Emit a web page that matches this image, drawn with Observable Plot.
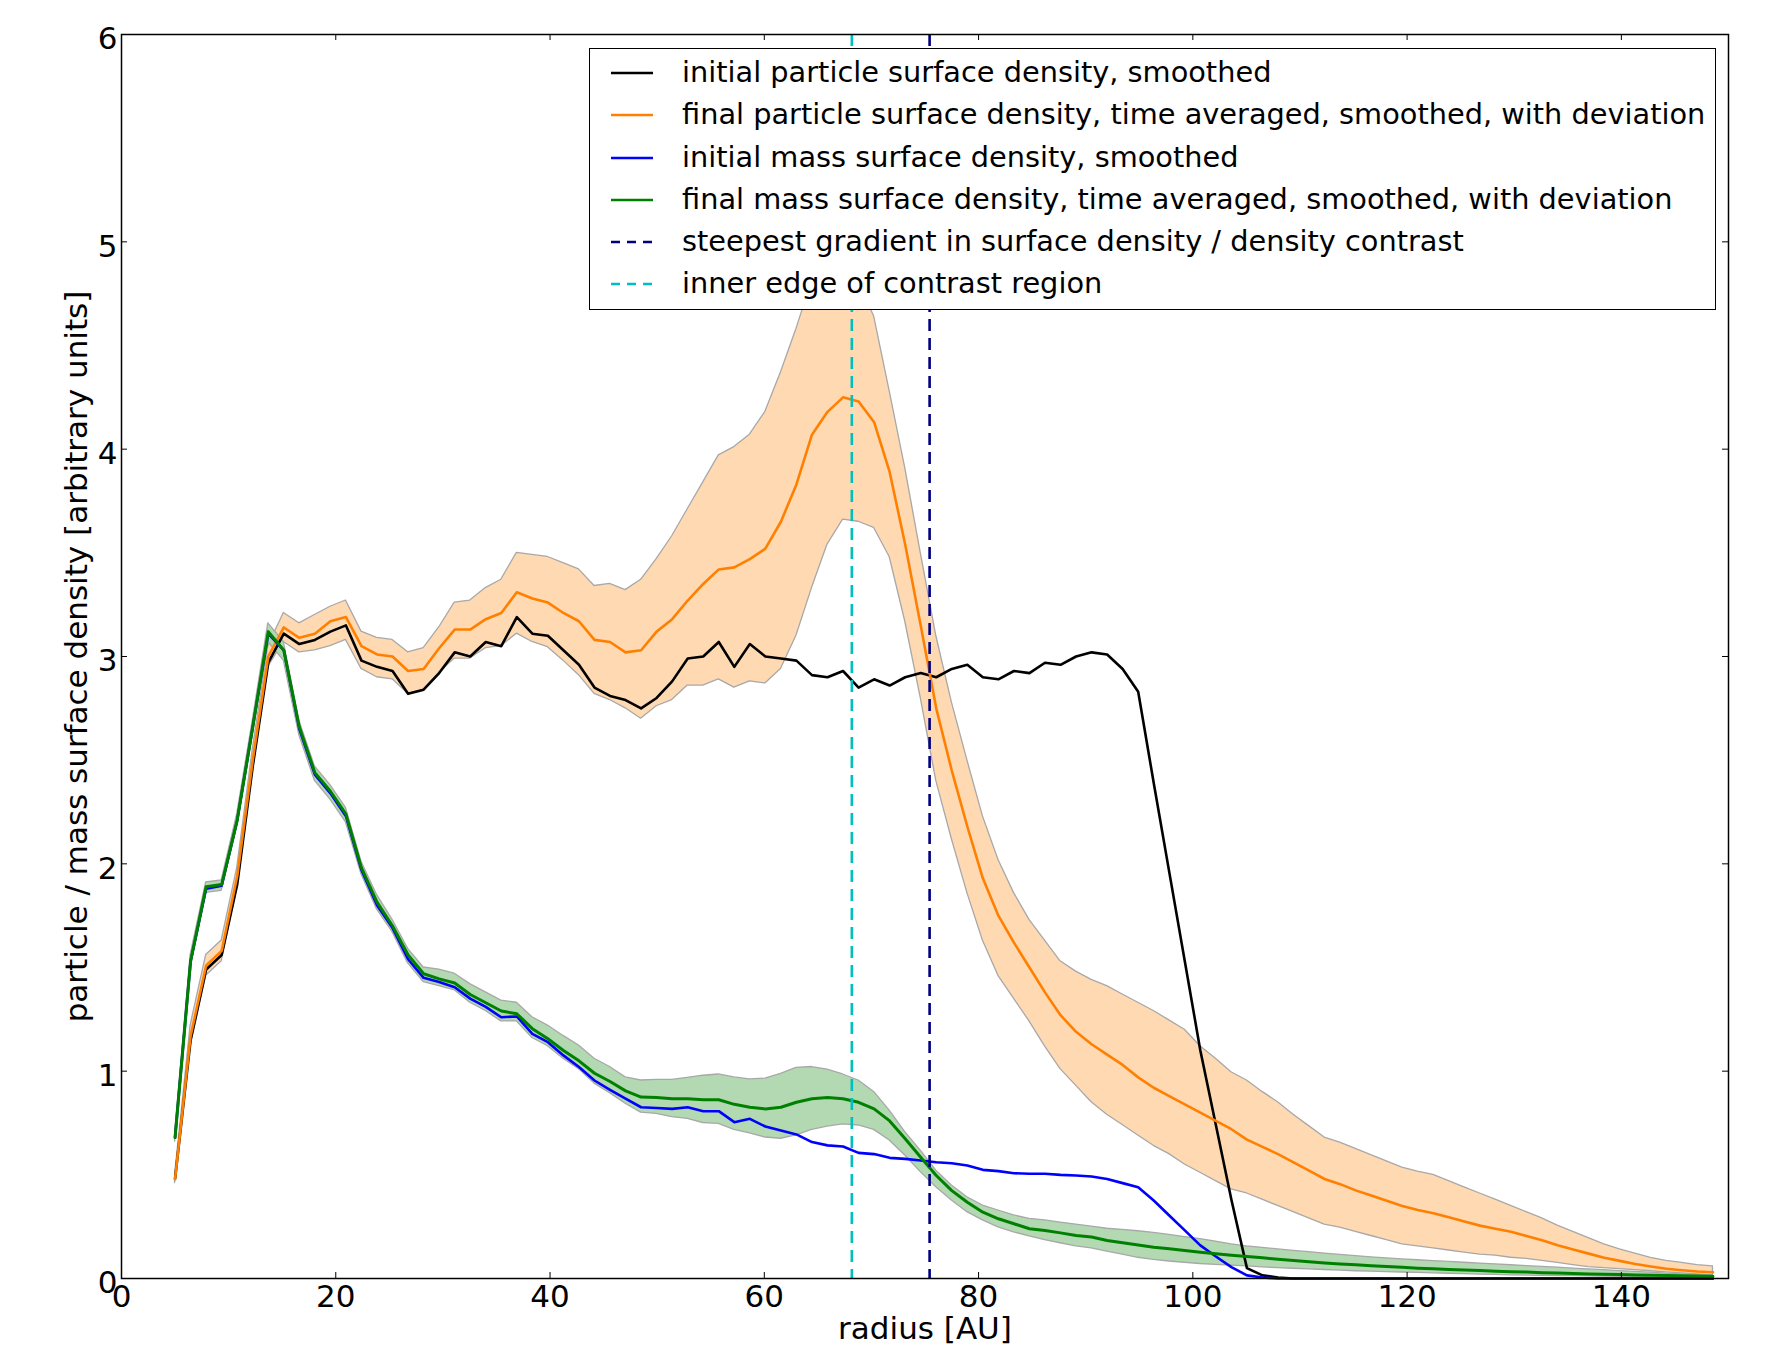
<!DOCTYPE html>
<html>
<head>
<meta charset="utf-8">
<script src="https://cdn.jsdelivr.net/npm/d3@7"></script>
<script src="https://cdn.jsdelivr.net/npm/@observablehq/plot@0.6"></script>
<style>
  html, body { margin: 0; padding: 0; background: white; }
  #wrap { position: relative; width: 1769px; height: 1349px; font-family: "DejaVu Sans", sans-serif; }
  #legend { position: absolute; left: 589px; top: 48px; width: 1127px; height: 262px; box-sizing: border-box;
            border: 1.5px solid black; background: white; padding-top: 3px; }
  .row { position: relative; height: 42.3px; line-height: 42.3px; font-size: 28.8px; white-space: nowrap; color: black; }
  .row svg { position: absolute; left: 19px; top: 0; }
  .row span { position: absolute; left: 92px; top: -1px; }
</style>
</head>
<body>
<div id="wrap"><div id="legend"></div></div>
<script>
// ---- data ----
const radius = [
  5.0, 6.45, 7.9, 9.35, 10.8, 12.25, 13.7, 15.15, 16.6, 18.05,
  19.5, 20.95, 22.4, 23.85, 25.3, 26.75, 28.2, 29.65, 31.1, 32.55,
  34.0, 35.45, 36.9, 38.35, 39.8, 41.25, 42.7, 44.15, 45.6, 47.05,
  48.5, 49.95, 51.4, 52.85, 54.3, 55.75, 57.2, 58.65, 60.1, 61.55,
  63.0, 64.45, 65.9, 67.35, 68.8, 70.25, 71.7, 73.15, 74.6, 76.05,
  77.5, 78.95, 80.4, 81.85, 83.3, 84.75, 86.2, 87.65, 89.1, 90.55,
  92.0, 93.45, 94.9, 96.35, 97.8, 99.25, 100.7, 102.15, 103.6, 105.05,
  106.5, 107.95, 109.4, 110.85, 112.3, 113.75, 115.2, 116.65, 118.1, 119.55,
  121.0, 122.45, 123.9, 125.35, 126.8, 128.25, 129.7, 131.15, 132.6, 134.05,
  135.5, 136.95, 138.4, 139.85, 141.3, 142.75, 144.2, 145.65, 147.1, 148.55
];
const initialParticle = [
  0.48, 1.15, 1.49, 1.56, 1.90, 2.47, 2.97, 3.11, 3.06, 3.08,
  3.12, 3.15, 2.98, 2.95, 2.93, 2.82, 2.84, 2.92, 3.02, 3.00,
  3.07, 3.05, 3.19, 3.11, 3.10, 3.03, 2.96, 2.85, 2.81, 2.79,
  2.75, 2.80, 2.88, 2.99, 3.00, 3.07, 2.95, 3.06, 3.00, 2.99,
  2.98, 2.91, 2.90, 2.93, 2.85, 2.89, 2.86, 2.90, 2.92, 2.90,
  2.94, 2.96, 2.90, 2.89, 2.93, 2.92, 2.97, 2.96, 3.00, 3.02,
  3.01, 2.94, 2.83, 2.39, 1.96, 1.53, 1.10, 0.74, 0.38, 0.05,
  0.015, 0.005, 0, 0, 0, 0, 0, 0, 0, 0,
  0, 0, 0, 0, 0, 0, 0, 0, 0, 0,
  0, 0, 0, 0, 0, 0, 0, 0, 0, 0
];
const finalParticle = [
  0.48, 1.17, 1.51, 1.58, 1.94, 2.50, 3.00, 3.14, 3.09, 3.11,
  3.17, 3.19, 3.05, 3.01, 3.00, 2.93, 2.94, 3.04, 3.13, 3.13,
  3.18, 3.21, 3.31, 3.28, 3.26, 3.21, 3.17, 3.08, 3.07, 3.02,
  3.03, 3.12, 3.18, 3.27, 3.35, 3.42, 3.43, 3.47, 3.52, 3.65,
  3.83, 4.07, 4.18, 4.25, 4.23, 4.13, 3.89, 3.54, 3.15, 2.75,
  2.45, 2.18, 1.93, 1.75, 1.62, 1.50, 1.38, 1.27, 1.19, 1.13,
  1.08, 1.03, 0.97, 0.92, 0.88, 0.84, 0.80, 0.76, 0.72, 0.67,
  0.635, 0.60, 0.56, 0.52, 0.48, 0.455, 0.425, 0.40, 0.375, 0.35,
  0.33, 0.315, 0.295, 0.275, 0.255, 0.24, 0.225, 0.205, 0.185, 0.16,
  0.14, 0.12, 0.10, 0.085, 0.07, 0.058, 0.047, 0.04, 0.034, 0.03
];
const finalParticleHigh = [
  0.50, 1.22, 1.56, 1.63, 1.98, 2.55, 3.05, 3.21, 3.16, 3.20,
  3.24, 3.27, 3.12, 3.09, 3.08, 3.02, 3.04, 3.14, 3.26, 3.27,
  3.33, 3.37, 3.50, 3.49, 3.48, 3.45, 3.42, 3.34, 3.35, 3.32,
  3.37, 3.47, 3.58, 3.71, 3.84, 3.97, 4.01, 4.07, 4.18, 4.37,
  4.58, 4.81, 4.82, 4.84, 4.81, 4.64, 4.28, 3.91, 3.50, 3.10,
  2.78, 2.50, 2.23, 2.02, 1.86, 1.73, 1.63, 1.53, 1.48, 1.44,
  1.41, 1.37, 1.33, 1.29, 1.245, 1.20, 1.12, 1.06, 0.995, 0.955,
  0.90, 0.85, 0.79, 0.735, 0.68, 0.655, 0.625, 0.595, 0.565, 0.535,
  0.515, 0.50, 0.47, 0.44, 0.41, 0.38, 0.35, 0.32, 0.29, 0.255,
  0.225, 0.195, 0.165, 0.14, 0.12, 0.10, 0.085, 0.075, 0.065, 0.058
];
const finalParticleLow = [
  0.46, 1.12, 1.46, 1.53, 1.89, 2.45, 2.95, 3.07, 3.02, 3.03,
  3.05, 3.08, 2.94, 2.90, 2.89, 2.82, 2.84, 2.92, 2.99, 2.99,
  3.04, 3.05, 3.11, 3.07, 3.045, 2.98, 2.91, 2.82, 2.79, 2.75,
  2.70, 2.76, 2.79, 2.86, 2.86, 2.89, 2.85, 2.88, 2.87, 2.94,
  3.10, 3.33, 3.54, 3.66, 3.65, 3.62, 3.48, 3.17, 2.80, 2.40,
  2.12, 1.86, 1.63, 1.46, 1.35, 1.24, 1.12, 1.01, 0.93, 0.85,
  0.79, 0.74, 0.69, 0.64, 0.60, 0.55, 0.51, 0.47, 0.43, 0.41,
  0.38, 0.35, 0.32, 0.29, 0.26, 0.245, 0.225, 0.205, 0.185, 0.165,
  0.155, 0.145, 0.135, 0.125, 0.115, 0.11, 0.10, 0.095, 0.085, 0.075,
  0.065, 0.055, 0.05, 0.045, 0.04, 0.035, 0.03, 0.025, 0.02, 0.015
];
const initialMass = [
  0.68, 1.53, 1.88, 1.895, 2.21, 2.66, 3.11, 3.03, 2.65, 2.43,
  2.34, 2.23, 1.97, 1.80, 1.69, 1.54, 1.45, 1.43, 1.405, 1.35,
  1.31, 1.26, 1.264, 1.18, 1.14, 1.076, 1.02, 0.955, 0.91, 0.867,
  0.826, 0.822, 0.818, 0.826, 0.807, 0.807, 0.754, 0.77, 0.733, 0.714,
  0.695, 0.658, 0.642, 0.637, 0.606, 0.60, 0.582, 0.577, 0.569, 0.561,
  0.556, 0.545, 0.524, 0.518, 0.508, 0.505, 0.505, 0.50, 0.497, 0.492,
  0.48, 0.46, 0.44, 0.376, 0.304, 0.232, 0.16, 0.106, 0.055, 0.015,
  0.005, 0, 0, 0, 0, 0, 0, 0, 0, 0,
  0, 0, 0, 0, 0, 0, 0, 0, 0, 0,
  0, 0, 0, 0, 0, 0, 0, 0, 0, 0
];
const finalMass = [
  0.68, 1.53, 1.89, 1.90, 2.21, 2.66, 3.12, 3.03, 2.66, 2.44,
  2.35, 2.24, 1.98, 1.815, 1.70, 1.56, 1.47, 1.445, 1.425, 1.37,
  1.33, 1.29, 1.277, 1.205, 1.156, 1.10, 1.05, 0.99, 0.95, 0.905,
  0.875, 0.873, 0.867, 0.867, 0.862, 0.862, 0.84, 0.826, 0.818, 0.826,
  0.85, 0.867, 0.873, 0.867, 0.85, 0.818, 0.76, 0.674, 0.585, 0.497,
  0.424, 0.368, 0.32, 0.288, 0.264, 0.24, 0.232, 0.22, 0.207, 0.20,
  0.183, 0.172, 0.162, 0.151, 0.143, 0.135, 0.127, 0.119, 0.112, 0.106,
  0.10, 0.093, 0.087, 0.081, 0.075, 0.07, 0.066, 0.062, 0.058, 0.054,
  0.05, 0.047, 0.044, 0.041, 0.038, 0.035, 0.033, 0.031, 0.028, 0.026,
  0.024, 0.022, 0.02, 0.019, 0.017, 0.016, 0.014, 0.013, 0.012, 0.011
];
const finalMassHigh = [
  0.70, 1.56, 1.91, 1.92, 2.24, 2.69, 3.16, 3.07, 2.69, 2.47,
  2.38, 2.27, 2.01, 1.85, 1.73, 1.59, 1.50, 1.49, 1.47, 1.42,
  1.38, 1.34, 1.33, 1.26, 1.22, 1.17, 1.124, 1.06, 1.02, 0.97,
  0.955, 0.958, 0.958, 0.968, 0.978, 0.984, 0.97, 0.96, 0.964, 0.987,
  1.016, 1.02, 1.007, 0.984, 0.955, 0.90, 0.81, 0.706, 0.617, 0.52,
  0.449, 0.392, 0.352, 0.328, 0.304, 0.288, 0.28, 0.27, 0.26, 0.25,
  0.24, 0.235, 0.228, 0.22, 0.21, 0.20, 0.19, 0.178, 0.165, 0.155,
  0.148, 0.14, 0.133, 0.127, 0.12, 0.114, 0.108, 0.102, 0.097, 0.092,
  0.088, 0.084, 0.08, 0.076, 0.072, 0.068, 0.064, 0.06, 0.056, 0.052,
  0.048, 0.044, 0.04, 0.036, 0.032, 0.028, 0.024, 0.02, 0.017, 0.015
];
const finalMassLow = [
  0.66, 1.50, 1.86, 1.87, 2.18, 2.62, 3.07, 2.98, 2.62, 2.40,
  2.31, 2.20, 1.95, 1.78, 1.67, 1.52, 1.43, 1.41, 1.39, 1.33,
  1.29, 1.24, 1.24, 1.16, 1.12, 1.06, 1.01, 0.94, 0.894, 0.843,
  0.80, 0.794, 0.778, 0.77, 0.75, 0.746, 0.717, 0.70, 0.68, 0.674,
  0.69, 0.717, 0.733, 0.743, 0.738, 0.717, 0.666, 0.593, 0.513, 0.44,
  0.376, 0.32, 0.28, 0.247, 0.223, 0.203, 0.185, 0.17, 0.155, 0.145,
  0.13, 0.115, 0.10, 0.09, 0.082, 0.076, 0.07, 0.066, 0.062, 0.058,
  0.054, 0.05, 0.047, 0.044, 0.041, 0.038, 0.035, 0.033, 0.031, 0.029,
  0.027, 0.025, 0.023, 0.021, 0.019, 0.017, 0.015, 0.014, 0.013, 0.012,
  0.011, 0.01, 0.009, 0.008, 0.007, 0.006, 0.005, 0.005, 0.004, 0.004
];
const steepestGradientR = [75.43];
const innerEdgeR = [68.17];
const xTicks = [0, 20, 40, 60, 80, 100, 120, 140];
const yTicks = [0, 1, 2, 3, 4, 5, 6];
const xLabel = "radius [AU]";
const yLabel = "particle / mass surface density [arbitrary units]";
const legendLabels = [
  "initial particle surface density, smoothed",
  "final particle surface density, time averaged, smoothed, with deviation",
  "initial mass surface density, smoothed",
  "final mass surface density, time averaged, smoothed, with deviation",
  "steepest gradient in surface density / density contrast",
  "inner edge of contrast region"
];
const legendColors = ["#000000", "#ff8000", "#0000ff", "#008000", "#000080", "#00bfbf"];
const legendDashed = [false, false, false, false, true, true];

// ---- table ----
const rows = radius.map((r, i) => ({
  r,
  ip: initialParticle[i], fp: finalParticle[i], fpLo: finalParticleLow[i], fpHi: finalParticleHigh[i],
  im: initialMass[i], fm: finalMass[i], fmLo: finalMassLow[i], fmHi: finalMassHigh[i]
}));

const W = 1769, H = 1349, mL = 121, mR = 41, mT = 34, mB = 71;
const plotW = W - mL - mR, plotH = H - mT - mB;
const dash = "12,7";

const chart = Plot.plot({
  width: W, height: H,
  marginLeft: mL, marginRight: mR, marginTop: mT, marginBottom: mB,
  x: {domain: [0, 150]},
  y: {domain: [0, 6]},
  style: {fontFamily: "'DejaVu Sans', sans-serif", fontSize: "31px", background: "white", color: "black"},
  marks: [
    Plot.areaY(rows, {x: "r", y1: "fpLo", y2: "fpHi", fill: "#ffd9b2", stroke: "#a8a8a8", strokeWidth: 1.3}),
    Plot.areaY(rows, {x: "r", y1: "fmLo", y2: "fmHi", fill: "#b2d9b2", stroke: "#a8a8a8", strokeWidth: 1.3}),
    Plot.lineY(rows, {x: "r", y: "ip", stroke: "#000000", strokeWidth: 2.6}),
    Plot.lineY(rows, {x: "r", y: "fp", stroke: "#ff8000", strokeWidth: 2.6}),
    Plot.lineY(rows, {x: "r", y: "im", stroke: "#0000ff", strokeWidth: 2.6}),
    Plot.lineY(rows, {x: "r", y: "fm", stroke: "#008000", strokeWidth: 3}),
    Plot.ruleX(innerEdgeR, {x: d => d, stroke: "#00bfbf", strokeWidth: 2.6, strokeDasharray: dash}),
    Plot.ruleX(steepestGradientR, {x: d => d, stroke: "#000080", strokeWidth: 2.6, strokeDasharray: dash}),
    Plot.frame({stroke: "black", strokeWidth: 1.5}),
    Plot.tickX(xTicks, {x: d => d, insetTop: plotH - 6, stroke: "black", strokeWidth: 1}),
    Plot.tickX(xTicks, {x: d => d, insetBottom: plotH - 6, stroke: "black", strokeWidth: 1}),
    Plot.tickY(yTicks, {y: d => d, insetRight: plotW - 6, stroke: "black", strokeWidth: 1}),
    Plot.tickY(yTicks, {y: d => d, insetLeft: plotW - 6, stroke: "black", strokeWidth: 1}),
    Plot.axisX({ticks: xTicks, tickSize: 0, tickPadding: 6, fontSize: 31, label: null, tickFormat: d => String(d)}),
    Plot.axisY({ticks: yTicks, tickSize: 0, tickPadding: 4, fontSize: 31, label: null, tickFormat: d => String(d), dy: 5}),
    Plot.text([xLabel], {frameAnchor: "bottom", dy: 51, fontSize: 31, textAnchor: "middle", lineAnchor: "middle", fill: "black"}),
    Plot.text([yLabel], {frameAnchor: "left", dx: -44, rotate: -90, fontSize: 31, textAnchor: "middle", lineAnchor: "middle", fill: "black"})
  ]
});
const wrap = document.getElementById("wrap");
wrap.insertBefore(chart, wrap.firstChild);

// ---- legend ----
const legend = d3.select("#legend");
legendLabels.forEach((label, i) => {
  const row = legend.append("div").attr("class", "row");
  const svg = row.append("svg").attr("width", 46).attr("height", 42);
  svg.append("line").attr("x1", 2).attr("x2", 44).attr("y1", 21).attr("y2", 21)
    .attr("stroke", legendColors[i]).attr("stroke-width", 2.6)
    .attr("stroke-dasharray", legendDashed[i] ? "9,7" : null);
  row.append("span").text(label);
});
</script>
</body>
</html>
